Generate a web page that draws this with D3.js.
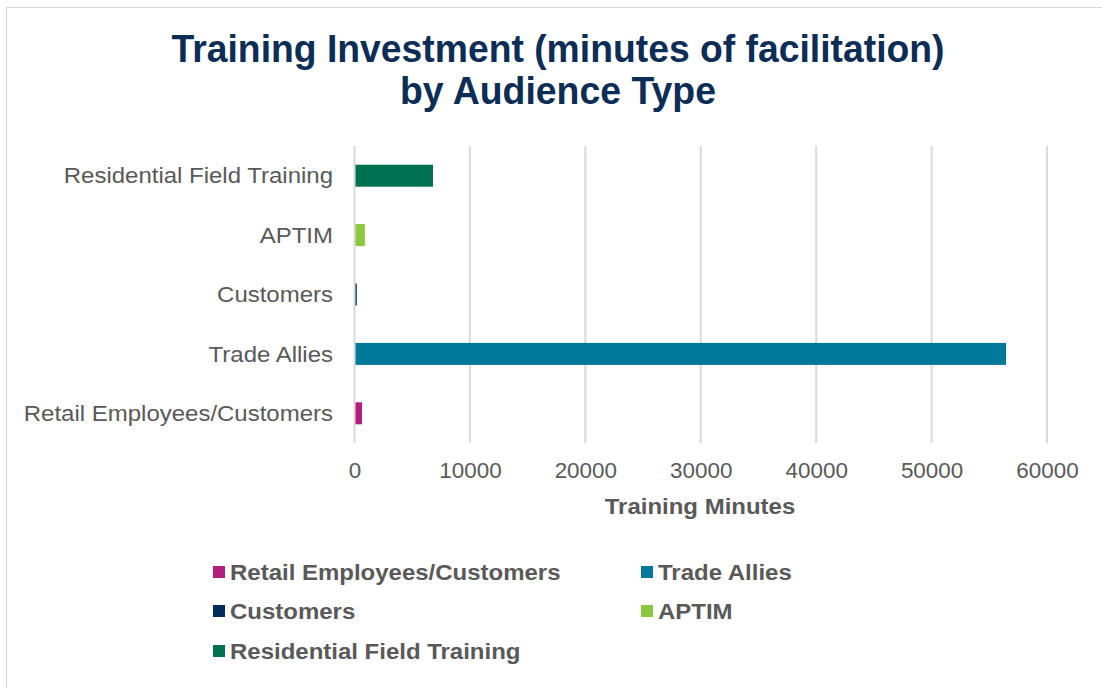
<!DOCTYPE html>
<html><head><meta charset="utf-8">
<script src="https://cdn.jsdelivr.net/npm/d3@7"></script>
<style>body{margin:0;background:#fff;}svg{display:block;font-family:"Liberation Sans",Arial,sans-serif;}</style>
</head><body><svg id="c" width="1102" height="688"></svg>
<script>
const categories = ["Retail Employees/Customers","Trade Allies","Customers","APTIM","Residential Field Training"];
const values = [650, 56450, 200, 900, 6800];
const colors = ["#B41F7E","#00789A","#002D5A","#8DC63F","#007150"];
const xTicks = [0,10000,20000,30000,40000,50000,60000];
const legendOrder = ["Retail Employees/Customers","Trade Allies","Customers","APTIM","Residential Field Training"];

function stretch(sel,k){
  sel.each(function(){ const w=this.getComputedTextLength(); d3.select(this).attr("textLength",w*k).attr("lengthAdjust","spacingAndGlyphs"); });
}

const svg = d3.select("#c");
svg.append("rect").attr("x",6.5).attr("y",7.5).attr("width",1110).attr("height",700)
  .attr("fill","#fff").attr("stroke","#d9d9d9").attr("stroke-width",1);

const title = svg.append("text").attr("text-anchor","middle").attr("fill","#0C2D55")
  .attr("font-weight","bold").attr("font-size",39);
title.append("tspan").attr("x",558).attr("y",62).attr("textLength",773).attr("lengthAdjust","spacingAndGlyphs").text("Training Investment (minutes of facilitation)");
title.append("tspan").attr("x",558).attr("y",104).attr("textLength",316).attr("lengthAdjust","spacingAndGlyphs").text("by Audience Type");

const x = d3.scaleLinear().domain([0,60000]).range([354.5,1047]);
const y = d3.scaleBand().domain(categories.slice().reverse()).range([146,443]).paddingInner(0.63).paddingOuter(0.315);

const g = svg.append("g");
g.selectAll("line.grid").data(xTicks).enter().append("line")
  .attr("x1",d=>x(d)).attr("x2",d=>x(d)).attr("y1",146).attr("y2",443)
  .attr("stroke","#d9d9d9").attr("stroke-width",2);

g.selectAll("rect.bar").data(categories).enter().append("rect")
  .attr("x",x(0)+1).attr("y",d=>y(d))
  .attr("width",(d,i)=>Math.max(1,x(values[i])-x(0)-1)).attr("height",y.bandwidth())
  .attr("fill",(d,i)=>colors[i]);

const cats = g.selectAll("text.cat").data(categories).enter().append("text")
  .attr("x",333).attr("y",d=>y(d)+y.bandwidth()/2).attr("dy","0.35em")
  .attr("text-anchor","end").attr("font-size",22).attr("fill","#595959").text(d=>d);
stretch(cats,1.09);

const xa = d3.axisBottom(x).tickValues(xTicks).tickSize(0).tickPadding(0).tickFormat(d3.format("d"));
const ax = svg.append("g").attr("transform","translate(0,462)").call(xa);
ax.select(".domain").remove();
ax.selectAll("text").attr("font-size",22).attr("fill","#595959").attr("dy","0.71em")
  .attr("font-family","Liberation Sans, Arial, sans-serif");
stretch(ax.selectAll("text"),1.02);

const at = svg.append("text").attr("x",700).attr("y",514).attr("text-anchor","middle").attr("font-weight","bold")
  .attr("font-size",22).attr("fill","#595959").text("Training Minutes");
stretch(at,1.09);

const legPos = [[213,572],[641,572],[213,611],[641,611],[213,651]];
const lg = svg.append("g");
legendOrder.forEach((name,i)=>{
  const idx = categories.indexOf(name);
  lg.append("rect").attr("x",legPos[i][0]).attr("y",legPos[i][1]-6).attr("width",12).attr("height",12).attr("fill",colors[idx]);
  const t = lg.append("text").attr("x",legPos[i][0]+17).attr("y",legPos[i][1]).attr("dy","0.35em")
    .attr("font-size",22).attr("font-weight","bold").attr("fill","#595959").text(name);
  stretch(t,1.09);
});
</script></body></html>
